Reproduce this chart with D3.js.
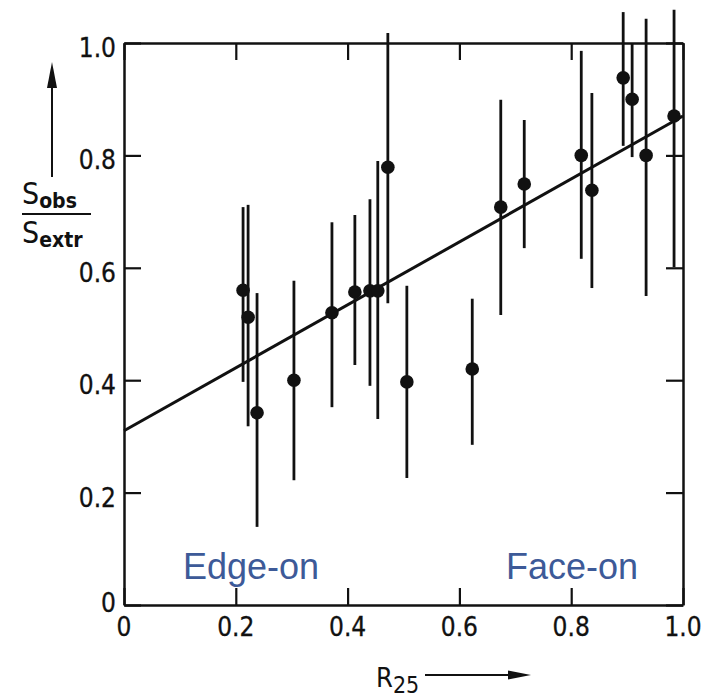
<!DOCTYPE html>
<html>
<head>
<meta charset="utf-8">
<script src="https://cdn.jsdelivr.net/npm/d3@7"></script>
<style>
  html, body { margin: 0; padding: 0; background: #fff; }
  svg { display: block; }
  .tick-label { font-family: "DejaVu Sans Condensed", "DejaVu Sans", sans-serif; font-size: 26px; fill: #111; stroke: #111; stroke-width: 0.3px; }
  .region { font-family: "Liberation Sans", Arial, sans-serif; font-size: 36px; fill: #3d5a98; }
</style>
</head>
<body>
<svg id="chart" width="715" height="697"></svg>
<script>
// Axial ratio R25 of each galaxy
const r25 = [0.213, 0.222, 0.238, 0.304, 0.372, 0.413, 0.440, 0.454, 0.472, 0.506,
             0.623, 0.674, 0.716, 0.818, 0.837, 0.893, 0.909, 0.934, 0.984];
// Observed / extrapolated flux ratio
const ratio = [0.560, 0.512, 0.342, 0.400, 0.520, 0.557, 0.559, 0.559, 0.779, 0.397,
               0.420, 0.708, 0.749, 0.800, 0.738, 0.938, 0.900, 0.800, 0.870];
// Lower and upper ends of the error bars
const errLow = [0.397, 0.318, 0.139, 0.222, 0.352, 0.427, 0.390, 0.331, 0.537, 0.226,
                0.285, 0.516, 0.635, 0.616, 0.564, 0.817, 0.797, 0.550, 0.601];
const errHigh = [0.708, 0.712, 0.555, 0.577, 0.681, 0.694, 0.722, 0.790, 1.018, 0.568,
                 0.545, 0.899, 0.863, 0.986, 0.911, 1.055, 1.000, 1.043, 1.059];
// Linear fit: ratio = fitIntercept + fitSlope * R25
const fitIntercept = 0.31;
const fitSlope = 0.56;
const xTicks = [0, 0.2, 0.4, 0.6, 0.8, 1.0];
const yTicks = [0, 0.2, 0.4, 0.6, 0.8, 1.0];
const regionLabels = ["Edge-on", "Face-on"];

const svg = d3.select("#chart");
const plotLeft = 124, plotRight = 683, plotTop = 43, plotBottom = 605;

const x = d3.scaleLinear().domain([0, 1]).range([plotLeft, plotRight]);
const y = d3.scaleLinear().domain([0, 1]).range([plotBottom, plotTop]);
const fmt = d => d === 0 ? "0" : d3.format(".1f")(d);
const tickLen = 17;

// Frame axes with inward ticks on all four sides
svg.append("g").attr("transform", `translate(0,${plotBottom})`)
  .call(d3.axisBottom(x).tickValues(xTicks).tickSizeInner(-tickLen).tickSizeOuter(0).tickFormat(""));
svg.append("g").attr("transform", `translate(0,${plotTop})`)
  .call(d3.axisTop(x).tickValues(xTicks).tickSizeInner(-tickLen).tickSizeOuter(0).tickFormat(""));
svg.append("g").attr("transform", `translate(${plotLeft},0)`)
  .call(d3.axisLeft(y).tickValues(yTicks).tickSizeInner(-tickLen).tickSizeOuter(0).tickFormat(""));
svg.append("g").attr("transform", `translate(${plotRight},0)`)
  .call(d3.axisRight(y).tickValues(yTicks).tickSizeInner(-tickLen).tickSizeOuter(0).tickFormat(""));
svg.selectAll(".domain").attr("stroke", "#111").attr("stroke-width", 2.5);
svg.selectAll(".tick line").attr("stroke", "#111").attr("stroke-width", 2.2);

// Tick labels
svg.append("g").selectAll("text").data(xTicks).join("text")
  .attr("class", "tick-label")
  .attr("x", d => x(d)).attr("y", plotBottom + 31)
  .attr("text-anchor", "middle")
  .text(fmt);
svg.append("g").selectAll("text").data(yTicks).join("text")
  .attr("class", "tick-label")
  .attr("x", plotLeft - 8).attr("y", d => y(d) + (d === 0 ? 7 : 14))
  .attr("text-anchor", "end")
  .text(fmt);

// Fit line
svg.append("line")
  .attr("x1", x(0)).attr("y1", y(fitIntercept))
  .attr("x2", x(1)).attr("y2", y(fitIntercept + fitSlope))
  .attr("stroke", "#111").attr("stroke-width", 3);

// Error bars
const idx = d3.range(r25.length);
svg.append("g").selectAll("line").data(idx).join("line")
  .attr("x1", i => x(r25[i])).attr("x2", i => x(r25[i]))
  .attr("y1", i => y(errLow[i])).attr("y2", i => y(errHigh[i]))
  .attr("stroke", "#111").attr("stroke-width", 2.8);

// Points
svg.append("g").selectAll("circle").data(idx).join("circle")
  .attr("cx", i => x(r25[i])).attr("cy", i => y(ratio[i]))
  .attr("r", 6.8).attr("fill", "#111");

// Region labels
svg.append("text").attr("class", "region").attr("x", 183).attr("y", 579).text(regionLabels[0]);
svg.append("text").attr("class", "region").attr("x", 506).attr("y", 579).text(regionLabels[1]);

// Y-axis title: S_obs / S_extr with upward arrow
const font = '"DejaVu Sans Condensed", "DejaVu Sans", sans-serif';
const num = svg.append("text").attr("x", 22).attr("y", 204)
  .attr("font-family", font).attr("fill", "#111");
num.append("tspan").attr("font-size", 30).text("S");
num.append("tspan").attr("font-size", 21).attr("font-weight", "bold").attr("dy", 4).text("obs");
svg.append("line").attr("x1", 22).attr("x2", 91).attr("y1", 214).attr("y2", 214)
  .attr("stroke", "#111").attr("stroke-width", 2);
const den = svg.append("text").attr("x", 22).attr("y", 243)
  .attr("font-family", font).attr("fill", "#111");
den.append("tspan").attr("font-size", 30).text("S");
den.append("tspan").attr("font-size", 21).attr("font-weight", "bold").attr("dy", 4).text("extr");

svg.append("line").attr("x1", 52).attr("x2", 52).attr("y1", 177).attr("y2", 80)
  .attr("stroke", "#111").attr("stroke-width", 2);
svg.append("path").attr("d", "M52,62 L47,88 L57,88 Z").attr("fill", "#111");

// X-axis title: R_25 with rightward arrow
const xt = svg.append("text").attr("x", 376).attr("y", 687)
  .attr("font-family", font).attr("fill", "#111");
xt.append("tspan").attr("font-size", 27).text("R");
xt.append("tspan").attr("font-size", 23).attr("dy", 6).text("25");
svg.append("line").attr("x1", 425).attr("x2", 515).attr("y1", 675).attr("y2", 675)
  .attr("stroke", "#111").attr("stroke-width", 2);
svg.append("path").attr("d", "M531,675 L508,670.5 L508,679.5 Z").attr("fill", "#111");
</script>
</body>
</html>
